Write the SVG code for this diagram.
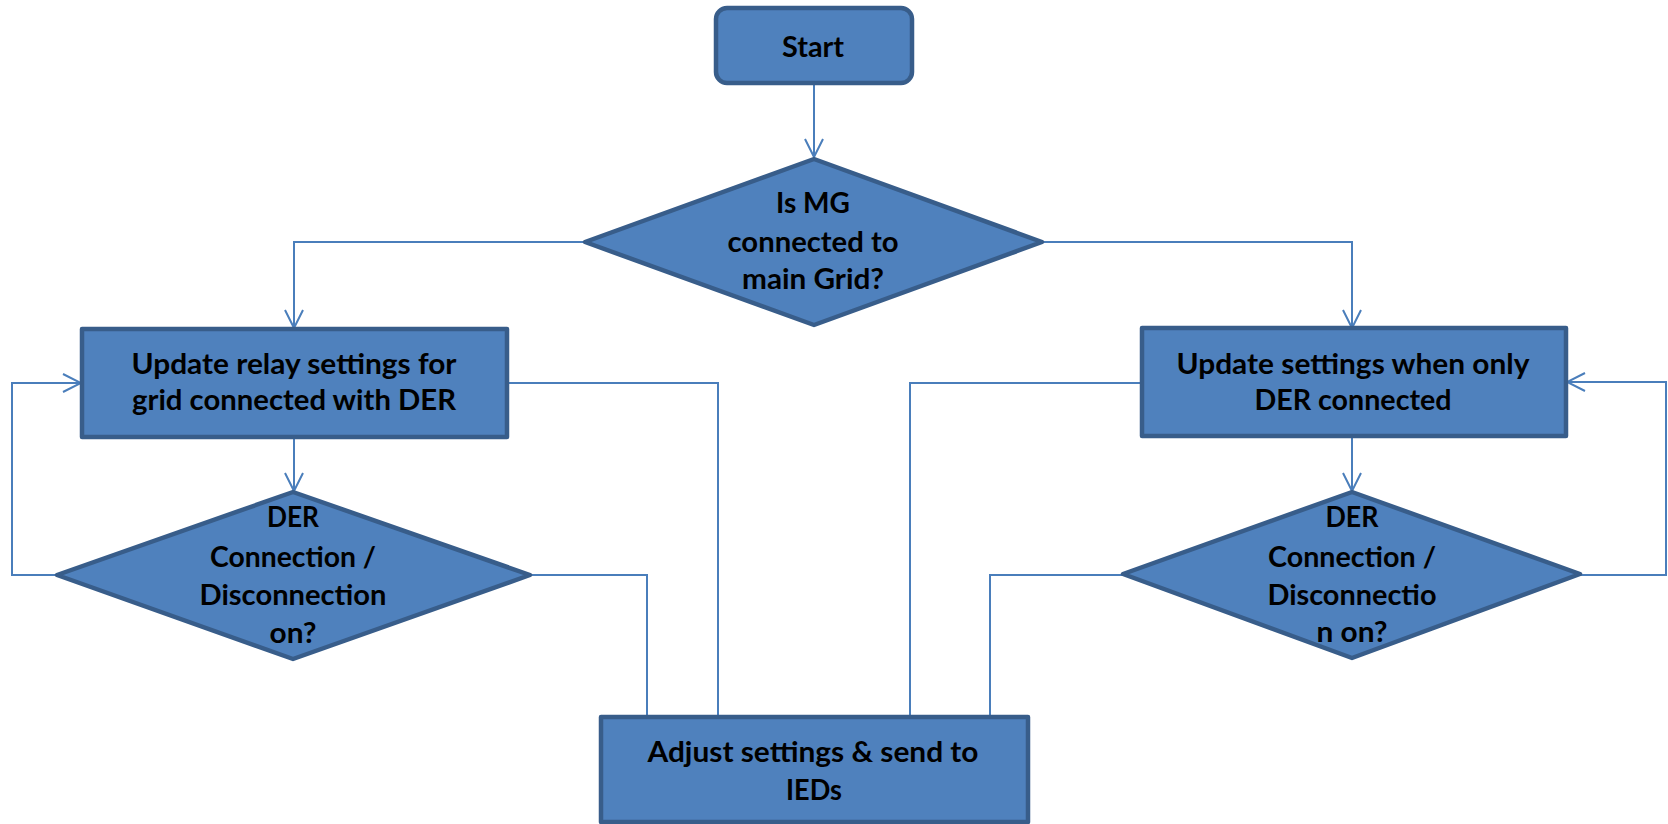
<svg xmlns="http://www.w3.org/2000/svg" width="1668" height="824" viewBox="0 0 1668 824">
  <style>
    .box { fill: #4F81BD; stroke: #385D8A; stroke-width: 4.5; stroke-linejoin: round; }
    .link { fill: none; stroke: #4A7EBB; stroke-width: 2; }
    .lbl { font-family: Lato, "Liberation Sans", sans-serif; font-weight: 700; font-size: 28px; fill: #000; text-anchor: middle; }
  </style>
  <defs>
    <marker id="arrow" viewBox="0 0 20 20" refX="19" refY="10" markerWidth="20" markerHeight="20" markerUnits="userSpaceOnUse" orient="auto">
      <path d="M1,1 L19,10 L1,19" fill="none" stroke="#4A7EBB" stroke-width="2"/>
    </marker>
  </defs>
  <rect width="1668" height="824" fill="#fff"/>

  <!-- connectors -->
  <g id="connectors">
    <path class="link" d="M814,84 V157" marker-end="url(#arrow)"/>
    <path class="link" d="M585,242 H294 V328" marker-end="url(#arrow)"/>
    <path class="link" d="M1042,242 H1352 V328" marker-end="url(#arrow)"/>
    <path class="link" d="M294,437 V491" marker-end="url(#arrow)"/>
    <path class="link" d="M1352,436 V491" marker-end="url(#arrow)"/>
    <path class="link" d="M57,575 H12 V383 H81" marker-end="url(#arrow)"/>
    <path class="link" d="M1580,575 H1666 V382 H1567" marker-end="url(#arrow)"/>
    <path class="link" d="M507,383 H718 V717"/>
    <path class="link" d="M530,575 H647 V717"/>
    <path class="link" d="M1142,383 H910 V717"/>
    <path class="link" d="M1123,575 H990 V717"/>
  </g>

  <!-- start terminal -->
  <g id="start">
    <rect class="box" x="716" y="8" width="196" height="75" rx="11" ry="11"/>
    <text class="lbl" x="813" y="57" font-size="30" textLength="62" lengthAdjust="spacingAndGlyphs">Start</text>
  </g>

  <!-- grid connection decision -->
  <g id="is-mg-connected">
    <polygon class="box" points="814,159 1042,242 814,325 585,242"/>
    <text class="lbl" x="813" y="213" textLength="74" lengthAdjust="spacingAndGlyphs">Is MG</text>
    <text class="lbl" x="813" y="252" textLength="171" lengthAdjust="spacingAndGlyphs">connected to</text>
    <text class="lbl" x="813" y="289" textLength="142" lengthAdjust="spacingAndGlyphs">main Grid?</text>
  </g>

  <!-- grid-connected settings -->
  <g id="update-grid">
    <rect class="box" x="82" y="329" width="425" height="108"/>
    <text class="lbl" x="294" y="374" textLength="325" lengthAdjust="spacingAndGlyphs">Update relay settings for</text>
    <text class="lbl" x="294" y="410" textLength="324" lengthAdjust="spacingAndGlyphs">grid connected with DER</text>
  </g>

  <!-- islanded settings -->
  <g id="update-der">
    <rect class="box" x="1142" y="328" width="424" height="108"/>
    <text class="lbl" x="1353" y="374" textLength="353" lengthAdjust="spacingAndGlyphs">Update settings when only</text>
    <text class="lbl" x="1353" y="410" textLength="197" lengthAdjust="spacingAndGlyphs">DER connected</text>
  </g>

  <!-- DER event check, grid-connected branch -->
  <g id="der-check-left">
    <polygon class="box" points="293,492 530,575 293,659 57,575"/>
    <text class="lbl" x="293" y="527" textLength="52" lengthAdjust="spacingAndGlyphs">DER</text>
    <text class="lbl" x="293" y="567" textLength="166" lengthAdjust="spacingAndGlyphs">Connection /</text>
    <text class="lbl" x="293" y="605" textLength="187" lengthAdjust="spacingAndGlyphs">Disconnection</text>
    <text class="lbl" x="293" y="643" textLength="47" lengthAdjust="spacingAndGlyphs">on?</text>
  </g>

  <!-- DER event check, islanded branch -->
  <g id="der-check-right">
    <polygon class="box" points="1352,492 1580,574 1352,658 1123,574"/>
    <text class="lbl" x="1352" y="527" textLength="53" lengthAdjust="spacingAndGlyphs">DER</text>
    <text class="lbl" x="1352" y="567" textLength="168" lengthAdjust="spacingAndGlyphs">Connection /</text>
    <text class="lbl" x="1352" y="605" textLength="169" lengthAdjust="spacingAndGlyphs">Disconnectio</text>
    <text class="lbl" x="1352" y="642" textLength="71" lengthAdjust="spacingAndGlyphs">n on?</text>
  </g>

  <!-- output to IEDs -->
  <g id="adjust">
    <rect class="box" x="601" y="717" width="427" height="105"/>
    <text class="lbl" x="813" y="762" textLength="331" lengthAdjust="spacingAndGlyphs">Adjust settings &amp; send to</text>
    <text class="lbl" x="814" y="800" textLength="56" lengthAdjust="spacingAndGlyphs">IEDs</text>
  </g>
</svg>
